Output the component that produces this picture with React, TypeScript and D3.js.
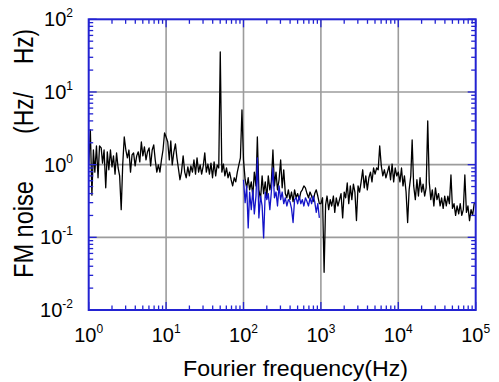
import React from 'react';
import * as d3 from 'd3';

// Fourier frequency (Hz) of the black trace
const blackFreq = [
  1, 1.05, 1.1, 1.15, 1.2, 1.26, 1.32, 1.38, 1.45, 1.51, 1.58, 1.66, 1.74, 1.82, 1.91, 2, 2.09, 2.19, 2.29, 2.4, 2.51, 2.63, 2.75, 2.88, 3.02, 3.16, 3.31, 3.47, 3.63, 3.8, 3.98, 4.17, 4.37, 4.57, 4.79, 5.01, 5.25, 5.5, 5.75, 6.03, 6.31, 6.61, 6.92, 7.24, 7.59, 7.94, 8.32, 8.71, 9.12, 9.55,
  10, 10.5, 11, 11.5, 12, 12.6, 13.2, 13.8, 14.5, 15.1, 15.8, 16.6, 17.4, 18.2, 19.1, 20, 20.9, 21.9, 22.9, 24, 25.1, 26.3, 27.5, 28.8, 30.2, 31.6, 33.1, 34.7, 36.3, 38, 39.8, 41.7, 43.7, 45.7, 47.9, 50.1, 52.5, 55, 57.5, 60.3, 63.1, 66.1, 69.2, 72.4, 75.9, 79.4, 83.2, 87.1, 91.2, 95.5,
  100, 105, 110, 115, 120, 126, 132, 138, 145, 151, 158, 166, 174, 182, 191, 200, 209, 219, 229, 240, 251, 263, 275, 288, 302, 316, 331, 347, 363, 380, 398, 417, 437, 457, 479, 501, 525, 550, 575, 603, 631, 661, 692, 724, 759, 794, 832, 871, 912, 955,
  1000, 1050, 1100, 1150, 1200, 1260, 1320, 1380, 1450, 1510, 1580, 1660, 1740, 1820, 1910, 2000, 2090, 2190, 2290, 2400, 2510, 2630, 2750, 2880, 3020, 3160, 3310, 3470, 3630, 3800, 3980, 4170, 4370, 4570, 4790, 5010, 5250, 5500, 5750, 6030, 6310, 6610, 6920, 7240, 7590, 7940, 8320, 8710, 9120, 9550,
  10000, 10500, 11000, 11500, 12000, 12600, 13200, 13800, 14500, 15100, 15800, 16600, 17400, 18200, 19100, 20000, 20900, 21900, 22900, 24000, 25100, 26300, 27500, 28800, 30200, 31600, 33100, 34700, 36300, 38000, 39800, 41700, 43700, 45700, 47900, 50100, 52500, 55000, 57500, 60300, 63100, 66100, 69200, 72400, 75900, 79400, 83200, 87100, 91200, 95500, 100000,
];

// FM noise (Hz/√Hz) of the black trace
const blackNoise = [
  0.99, 3.0, 0.38, 1.59, 0.79, 1.81, 0.66, 1.81, 1.7, 1.05, 1.59, 0.48, 1.5, 0.85, 1.59, 0.93, 1.32, 0.74, 1.45, 0.9, 0.7, 0.24, 0.99, 2.4, 1.59, 1.24, 1.59, 0.79, 1.36, 1.45, 0.96, 1.32, 1.5, 1.09, 2.05, 1.32, 1.75, 1.16, 1.5, 1.7, 0.96, 1.59, 1.87, 1.16, 0.79, 0.99, 0.79, 1.16, 1.59, 2.73,
  2.4, 2.05, 1.16, 2.12, 0.99, 1.5, 1.93, 1.24, 0.85, 0.62, 0.79, 1.32, 0.79, 0.66, 0.93, 0.7, 0.96, 0.79, 1.16, 0.74, 1.24, 0.79, 0.99, 0.74, 0.96, 1.45, 0.79, 1.02, 0.74, 1.05, 0.66, 1.09, 0.7, 0.99, 0.9, 35.5, 0.79, 1.02, 0.7, 0.9, 0.66, 0.79, 0.62, 0.51, 0.66, 0.58, 0.79, 0.99, 1.24, 5.65,
  1.16, 0.62, 0.48, 0.66, 0.45, 0.58, 0.37, 0.79, 0.51, 2.4, 0.45, 0.33, 0.7, 0.4, 0.58, 0.35, 0.7, 0.45, 0.58, 1.59, 0.51, 0.79, 0.45, 0.62, 1.16, 0.48, 0.85, 0.4, 0.35, 0.45, 0.33, 0.42, 0.31, 0.45, 0.35, 0.4, 0.33, 0.42, 0.45, 0.51, 0.48, 0.4, 0.35, 0.42, 0.37, 0.31, 0.4, 0.45, 0.37, 0.29,
  0.29, 0.35, 0.033, 0.28, 0.37, 0.24, 0.33, 0.27, 0.37, 0.22, 0.35, 0.27, 0.33, 0.4, 0.185, 0.42, 0.35, 0.56, 0.29, 0.51, 0.33, 0.54, 0.42, 0.17, 0.51, 0.42, 0.58, 0.85, 0.48, 0.7, 0.45, 0.66, 0.79, 0.58, 0.9, 0.74, 0.9, 0.85, 1.81, 0.96, 0.7, 0.85, 0.66, 0.79, 0.96, 0.62, 1.02, 0.58, 0.9, 0.7,
  0.79, 0.58, 0.9, 0.51, 0.7, 0.42, 0.16, 0.45, 0.7, 2.19, 0.51, 0.33, 0.62, 0.37, 0.66, 0.42, 0.54, 0.37, 0.48, 4.0, 0.58, 0.33, 0.45, 0.27, 0.48, 0.33, 0.4, 0.27, 0.35, 0.25, 0.37, 0.27, 0.37, 0.29, 0.72, 0.25, 0.29, 0.2, 0.27, 0.21, 0.29, 0.2, 0.24, 0.72, 0.22, 0.27, 0.17, 0.24, 0.2, 0.29, 0.31,
];

// Fourier frequency (Hz) of the blue trace
const blueFreq = [
  100, 105, 110, 115, 120, 126, 132, 138, 145, 151, 158, 166, 174, 182, 191, 200, 209, 219, 229, 240, 251, 263, 275, 288, 302, 316, 331, 347, 363, 380, 398, 417, 437, 457, 479, 501, 525, 550, 575, 603, 631, 661, 692, 724, 759, 794, 832, 871, 912, 955,
];

// FM noise (Hz/√Hz) of the blue trace
const blueNoise = [
  0.62, 0.3, 0.51, 0.135, 0.42, 0.24, 0.45, 0.21, 0.37, 1.24, 0.185, 0.37, 0.27, 0.098, 0.42, 0.33, 0.4, 0.24, 0.42, 0.9, 0.35, 0.42, 0.27, 0.51, 0.33, 0.42, 0.29, 0.35, 0.27, 0.33, 0.31, 0.25, 0.16, 0.33, 0.35, 0.29, 0.37, 0.29, 0.33, 0.27, 0.35, 0.31, 0.27, 0.35, 0.29, 0.37, 0.31, 0.22, 0.29, 0.185,
];

const xTickValues = [1, 10, 100, 1000, 10000, 100000];
const xTickExps = ['0', '1', '2', '3', '4', '5'];
const yTickValues = [100, 10, 1, 0.1, 0.01];
const yTickExps = ['2', '1', '0', '-1', '-2'];
const gridX = [10, 100, 1000, 10000];
const gridY = [10, 1, 0.1];

const FONT = "'Liberation Sans', Arial, Helvetica, sans-serif";
const AXIS = '#2323d2';
const BLUE = '#1414c8';
const GRID = '#9c9c9c';

export default function App() {
  const W = 499, H = 382;
  const L = 88.7, R = 475.7, T = 19.3, B = 310;
  const x = d3.scaleLog().domain([1, 1e5]).range([L, R]);
  const y = d3.scaleLog().domain([1e-2, 1e2]).range([B, T]);
  const line = d3.line<[number, number]>().x(d => x(d[0])).y(d => y(d[1]));
  const black = blackFreq.map((f, i) => [f, blackNoise[i]] as [number, number]);
  const blue = blueFreq.map((f, i) => [f, blueNoise[i]] as [number, number]);
  const isMajor = (v: number) => Math.abs(Math.log10(v) - Math.round(Math.log10(v))) < 1e-6;
  const xt = x.ticks();
  const yt = y.ticks();
  const MAJ = 8, MIN = 4.5;

  return (
    <svg width={W} height={H} style={{ position: 'absolute', left: 0, top: 0, background: '#fff' }}>
      <rect x={0} y={0} width={W} height={H} fill="#fff" />
      {/* grid */}
      {gridX.map(v => (
        <line key={'gx' + v} x1={x(v)} x2={x(v)} y1={T} y2={B} stroke={GRID} strokeWidth={1.6} />
      ))}
      {gridY.map(v => (
        <line key={'gy' + v} x1={L} x2={R} y1={y(v)} y2={y(v)} stroke={GRID} strokeWidth={1.6} />
      ))}
      {/* data */}
      <path d={line(black) || ''} fill="none" stroke="#000" strokeWidth={1.3} strokeLinejoin="round" />
      <path d={line(blue) || ''} fill="none" stroke={BLUE} strokeWidth={1.3} strokeLinejoin="round" />
      {/* ticks */}
      {xt.map((v, i) => {
        const len = isMajor(v) ? MAJ : MIN;
        const px = x(v);
        return (
          <g key={'xt' + i}>
            <line x1={px} x2={px} y1={B} y2={B - len} stroke={AXIS} strokeWidth={1.3} />
            <line x1={px} x2={px} y1={T} y2={T + len} stroke={AXIS} strokeWidth={1.3} />
          </g>
        );
      })}
      {yt.map((v, i) => {
        const len = isMajor(v) ? MAJ : MIN;
        const py = y(v);
        return (
          <g key={'yt' + i}>
            <line x1={L} x2={L + len} y1={py} y2={py} stroke={AXIS} strokeWidth={1.3} />
            <line x1={R} x2={R - len} y1={py} y2={py} stroke={AXIS} strokeWidth={1.3} />
          </g>
        );
      })}
      <rect x={L} y={T} width={R - L} height={B - T} fill="none" stroke={AXIS} strokeWidth={2} />
      {/* x tick labels */}
      {xTickValues.map((v, i) => (
        <text key={'xl' + i} x={x(v)} y={342} textAnchor="middle" fontFamily={FONT} fontSize={20} fill="#000">
          <tspan>10</tspan>
          <tspan dy={-9} fontSize={12}>{xTickExps[i]}</tspan>
        </text>
      ))}
      {/* y tick labels */}
      {yTickValues.map((v, i) => (
        <text key={'yl' + i} x={73} y={y(v) + 7} textAnchor="end" fontFamily={FONT} fontSize={20} fill="#000">
          <tspan>10</tspan>
          <tspan dy={-9} fontSize={12}>{yTickExps[i]}</tspan>
        </text>
      ))}
      {/* axis titles */}
      <text x={295.5} y={376} textAnchor="middle" fontFamily={FONT} fontSize={22} fill="#000"
        textLength={225} lengthAdjust="spacingAndGlyphs">Fourier frequency(Hz)</text>
      <text transform="translate(33,278) rotate(-90)" textAnchor="start" fontFamily={FONT} fontSize={27} fill="#000"
        textLength={97} lengthAdjust="spacingAndGlyphs">FM noise</text>
      <text transform="translate(33,134) rotate(-90)" textAnchor="start" fontFamily={FONT} fontSize={27} fill="#000"
        textLength={42} lengthAdjust="spacingAndGlyphs">(Hz/</text>
      <text transform="translate(33,64) rotate(-90)" textAnchor="start" fontFamily={FONT} fontSize={27} fill="#000"
        textLength={35} lengthAdjust="spacingAndGlyphs">Hz)</text>
    </svg>
  );
}
